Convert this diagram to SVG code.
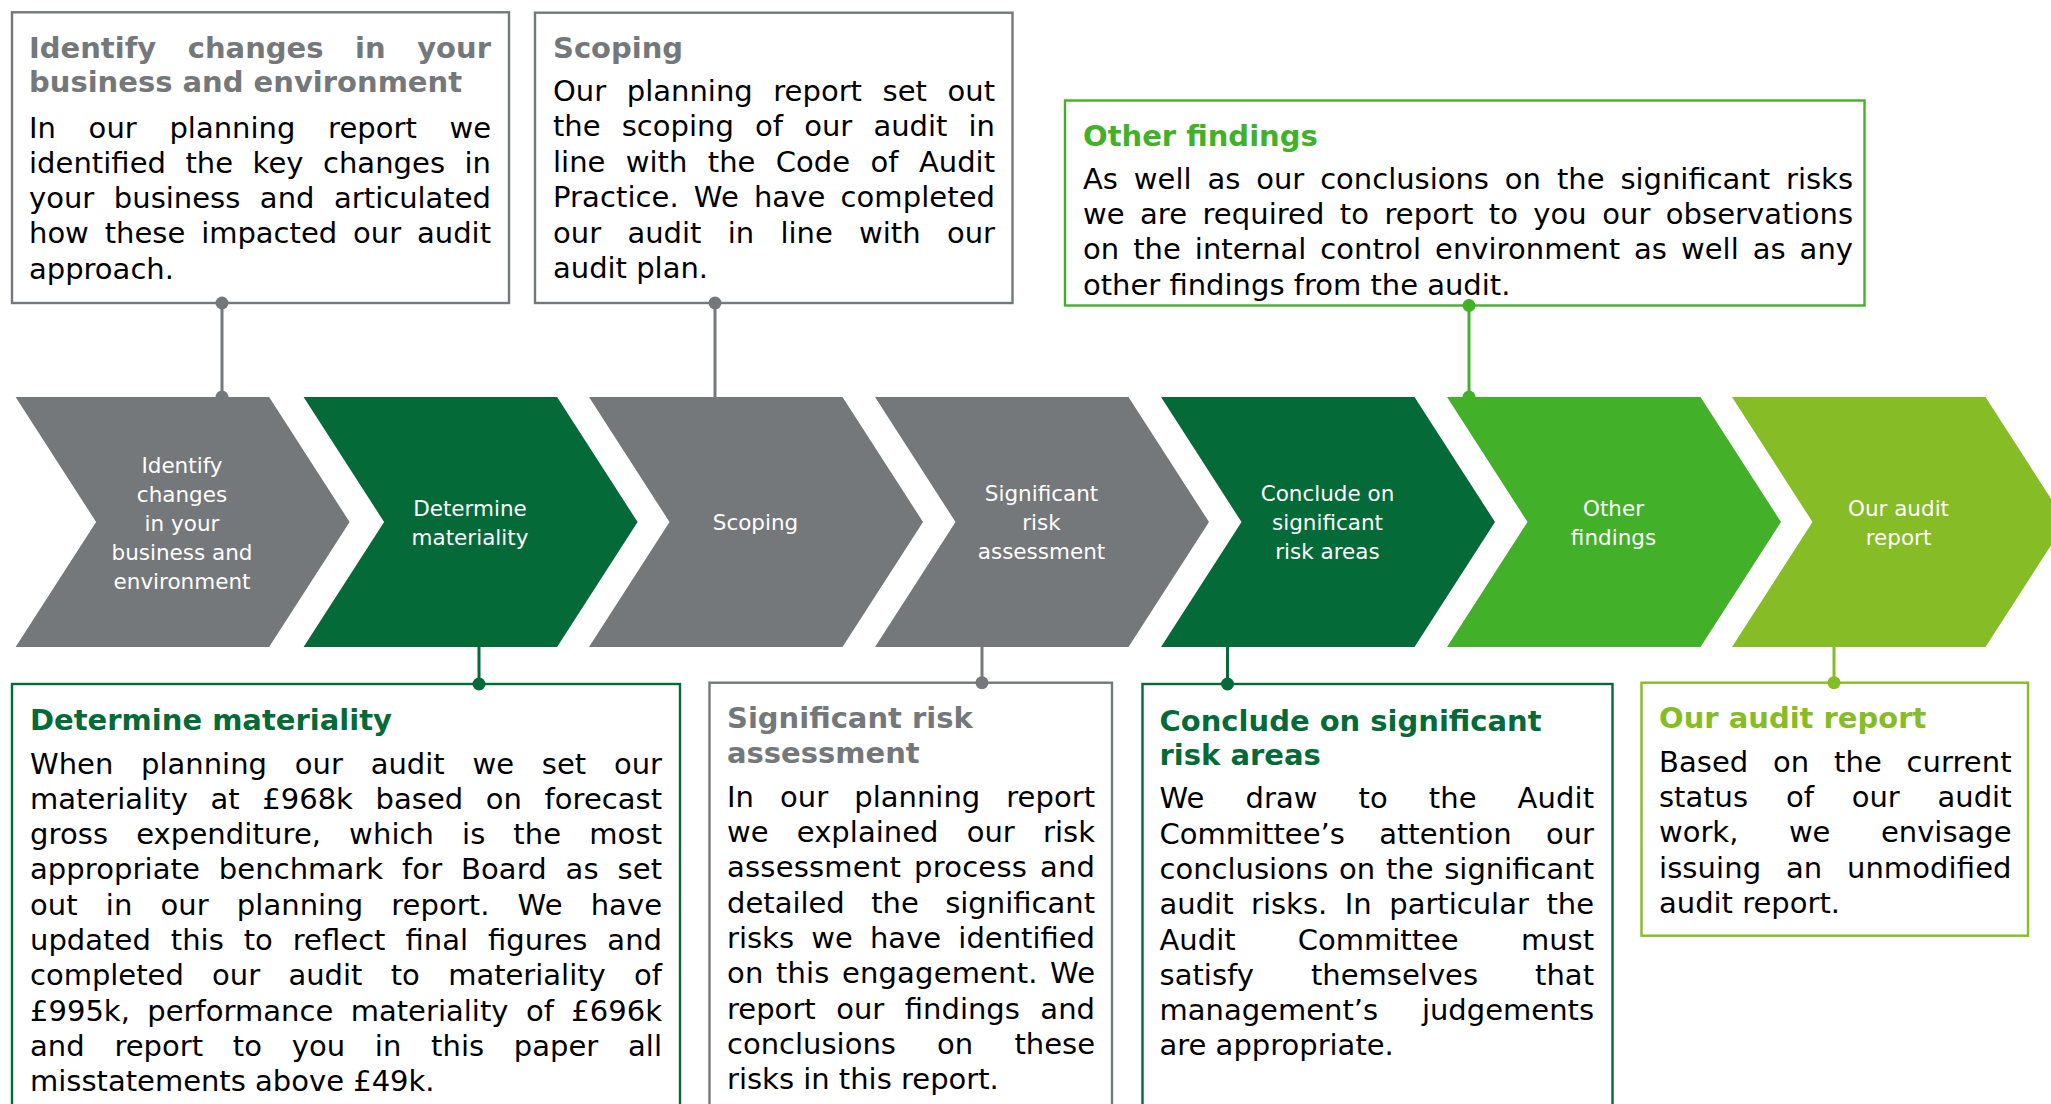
<svg xmlns="http://www.w3.org/2000/svg" width="2051" height="1104" viewBox="0 0 2051 1104">
<style>
.bg{fill:#ffffff}
.box{fill:#ffffff;stroke-width:2.4}
.grey{stroke:#75787B}
.dkg{stroke:#046A38}
.grn{stroke:#43B02A}
.lime{stroke:#86BC25}
.h{font-family:"DejaVu Sans",Verdana,sans-serif;font-size:29px;font-weight:bold}
.b{font-family:"DejaVu Sans",Verdana,sans-serif;font-size:29px;fill:#000000}
.cl{font-family:"DejaVu Sans",Verdana,sans-serif;font-size:21.5px;fill:#ffffff;text-anchor:middle}
.hg{fill:#75787B}.hd{fill:#046A38}.hn{fill:#43B02A}.hl{fill:#86BC25}
.con{stroke-width:3;fill:none}
</style>
<rect class="bg" x="0" y="0" width="2051" height="1104"/>

<g id="chevrons">
<g id="chev-identify">
<polygon points="15.6,397 269.1,397 349.6,522 269.1,647 15.6,647 96.1,522" fill="#75787B"/>
<text class="cl"><tspan x="182" y="473">Identify</tspan><tspan x="182" y="502">changes</tspan><tspan x="182" y="531">in your</tspan><tspan x="182" y="560">business and</tspan><tspan x="182" y="589">environment</tspan></text>
</g>
<g id="chev-materiality">
<polygon points="303.6,397 557.1,397 637.6,522 557.1,647 303.6,647 384.1,522" fill="#046A38"/>
<text class="cl"><tspan x="470" y="515.5">Determine</tspan><tspan x="470" y="545">materiality</tspan></text>
</g>
<g id="chev-scoping">
<polygon points="589,397 842.5,397 923,522 842.5,647 589,647 669.5,522" fill="#75787B"/>
<text class="cl" x="755.5" y="530">Scoping</text>
</g>
<g id="chev-risk">
<polygon points="875,397 1128.5,397 1209,522 1128.5,647 875,647 955.5,522" fill="#75787B"/>
<text class="cl"><tspan x="1041.5" y="501">Significant</tspan><tspan x="1041.5" y="530">risk</tspan><tspan x="1041.5" y="559">assessment</tspan></text>
</g>
<g id="chev-conclude">
<polygon points="1161,397 1414.5,397 1495,522 1414.5,647 1161,647 1241.5,522" fill="#046A38"/>
<text class="cl"><tspan x="1327.5" y="501">Conclude on</tspan><tspan x="1327.5" y="530">significant</tspan><tspan x="1327.5" y="559">risk areas</tspan></text>
</g>
<g id="chev-other">
<polygon points="1447,397 1700.5,397 1781,522 1700.5,647 1447,647 1527.5,522" fill="#43B02A"/>
<text class="cl"><tspan x="1613.5" y="515.5">Other</tspan><tspan x="1613.5" y="545">findings</tspan></text>
</g>
<g id="chev-report">
<polygon points="1732,397 1985.5,397 2066,522 1985.5,647 1732,647 1812.5,522" fill="#86BC25"/>
<text class="cl"><tspan x="1898.5" y="515.5">Our audit</tspan><tspan x="1898.5" y="545">report</tspan></text>
</g>
</g>

<g id="box-identify">
<rect class="box grey" x="12" y="12.3" width="497" height="290.7"/>
<text class="h hg" x="29" y="57.5" word-spacing="21.5" textLength="462" lengthAdjust="spacing">Identify changes in your</text>
<text class="h hg" x="29" y="92">business and environment</text>
<text class="b" x="29" y="137.5" word-spacing="23.4" textLength="462" lengthAdjust="spacing">In our planning report we</text>
<text class="b" x="29" y="172.8" word-spacing="10.2" textLength="462" lengthAdjust="spacing">identified the key changes in</text>
<text class="b" x="29" y="208.1" word-spacing="10.4" textLength="462" lengthAdjust="spacing">your business and articulated</text>
<text class="b" x="29" y="243.4" word-spacing="6.7" textLength="462" lengthAdjust="spacing">how these impacted our audit</text>
<text class="b" x="29" y="278.7">approach.</text>
</g>

<g id="box-scoping">
<rect class="box grey" x="535" y="12.7" width="477.5" height="290.3"/>
<text class="h hg" x="553" y="58.3">Scoping</text>
<text class="b" x="553" y="101" word-spacing="11.3" textLength="442" lengthAdjust="spacing">Our planning report set out</text>
<text class="b" x="553" y="136.45" word-spacing="12" textLength="442" lengthAdjust="spacing">the scoping of our audit in</text>
<text class="b" x="553" y="171.9" word-spacing="11.2" textLength="442" lengthAdjust="spacing">line with the Code of Audit</text>
<text class="b" x="553" y="207.35" word-spacing="5.75" textLength="442" lengthAdjust="spacing">Practice. We have completed</text>
<text class="b" x="553" y="242.8" word-spacing="17.1" textLength="442" lengthAdjust="spacing">our audit in line with our</text>
<text class="b" x="553" y="278.25">audit plan.</text>
</g>

<g id="box-other">
<rect class="box grn" x="1065" y="100.5" width="799.5" height="205"/>
<text class="h hn" x="1083" y="145.5">Other findings</text>
<text class="b" x="1083" y="188.8" word-spacing="6.7" textLength="770" lengthAdjust="spacing">As well as our conclusions on the significant risks</text>
<text class="b" x="1083" y="224.1" word-spacing="6.1" textLength="770" lengthAdjust="spacing">we are required to report to you our observations</text>
<text class="b" x="1083" y="259.4" word-spacing="4.7" textLength="770" lengthAdjust="spacing">on the internal control environment as well as any</text>
<text class="b" x="1083" y="294.7">other findings from the audit.</text>
</g>

<g id="box-materiality">
<rect class="box dkg" x="12" y="684" width="668" height="440"/>
<text class="h hd" x="30" y="730">Determine materiality</text>
<text class="b" x="30" y="773.5" word-spacing="18.6" textLength="632" lengthAdjust="spacing">When planning our audit we set our</text>
<text class="b" x="30" y="808.8" word-spacing="13.4" textLength="632" lengthAdjust="spacing">materiality at £968k based on forecast</text>
<text class="b" x="30" y="844.1" word-spacing="18.6" textLength="632" lengthAdjust="spacing">gross expenditure, which is the most</text>
<text class="b" x="30" y="879.4" word-spacing="9.6" textLength="632" lengthAdjust="spacing">appropriate benchmark for Board as set</text>
<text class="b" x="30" y="914.7" word-spacing="18.8" textLength="632" lengthAdjust="spacing">out in our planning report. We have</text>
<text class="b" x="30" y="950" word-spacing="10.65" textLength="632" lengthAdjust="spacing">updated this to reflect final figures and</text>
<text class="b" x="30" y="985.3" word-spacing="19.1" textLength="632" lengthAdjust="spacing">completed our audit to materiality of</text>
<text class="b" x="30" y="1020.6" word-spacing="8.2" textLength="632" lengthAdjust="spacing">£995k, performance materiality of £696k</text>
<text class="b" x="30" y="1055.9" word-spacing="20.5" textLength="632" lengthAdjust="spacing">and report to you in this paper all</text>
<text class="b" x="30" y="1091.2">misstatements above £49k.</text>
</g>

<g id="box-risk">
<rect class="box grey" x="709.5" y="682.7" width="402.5" height="440"/>
<text class="h hg" x="727" y="728.3">Significant risk</text>
<text class="h hg" x="727" y="763.3">assessment</text>
<text class="b" x="727" y="806.7" word-spacing="16.8" textLength="368" lengthAdjust="spacing">In our planning report</text>
<text class="b" x="727" y="842" word-spacing="19" textLength="368" lengthAdjust="spacing">we explained our risk</text>
<text class="b" x="727" y="877.3" word-spacing="3.5" textLength="368" lengthAdjust="spacing">assessment process and</text>
<text class="b" x="727" y="912.6" word-spacing="17.2" textLength="368" lengthAdjust="spacing">detailed the significant</text>
<text class="b" x="727" y="947.9" word-spacing="8" textLength="368" lengthAdjust="spacing">risks we have identified</text>
<text class="b" x="727" y="983.2" word-spacing="3" textLength="368" lengthAdjust="spacing">on this engagement. We</text>
<text class="b" x="727" y="1018.5" word-spacing="11.2" textLength="368" lengthAdjust="spacing">report our findings and</text>
<text class="b" x="727" y="1053.8" word-spacing="32" textLength="368" lengthAdjust="spacing">conclusions on these</text>
<text class="b" x="727" y="1089.1">risks in this report.</text>
</g>

<g id="box-conclude">
<rect class="box dkg" x="1142.5" y="684" width="470" height="440"/>
<text class="h hd" x="1159.5" y="730.7">Conclude on significant</text>
<text class="h hd" x="1159.5" y="765">risk areas</text>
<text class="b" x="1159.5" y="808.3" word-spacing="31.6" textLength="434.5" lengthAdjust="spacing">We draw to the Audit</text>
<text class="b" x="1159.5" y="843.6" word-spacing="25.2" textLength="434.5" lengthAdjust="spacing">Committee’s attention our</text>
<text class="b" x="1159.5" y="878.9" word-spacing="1.5" textLength="434.5" lengthAdjust="spacing">conclusions on the significant</text>
<text class="b" x="1159.5" y="914.2" word-spacing="8.3" textLength="434.5" lengthAdjust="spacing">audit risks. In particular the</text>
<text class="b" x="1159.5" y="949.5" word-spacing="53" textLength="434.5" lengthAdjust="spacing">Audit Committee must</text>
<text class="b" x="1159.5" y="984.8" word-spacing="47.7" textLength="434.5" lengthAdjust="spacing">satisfy themselves that</text>
<text class="b" x="1159.5" y="1020.1" word-spacing="34.6" textLength="434.5" lengthAdjust="spacing">management’s judgements</text>
<text class="b" x="1159.5" y="1055.4">are appropriate.</text>
</g>

<g id="box-report">
<rect class="box lime" x="1641.5" y="682.7" width="386.5" height="253"/>
<text class="h hl" x="1659" y="728.3">Our audit report</text>
<text class="b" x="1659" y="771.7" word-spacing="15.5" textLength="352.5" lengthAdjust="spacing">Based on the current</text>
<text class="b" x="1659" y="807" word-spacing="28.6" textLength="352.5" lengthAdjust="spacing">status of our audit</text>
<text class="b" x="1659" y="842.3" word-spacing="41.3" textLength="352.5" lengthAdjust="spacing">work, we envisage</text>
<text class="b" x="1659" y="877.6" word-spacing="15.3" textLength="352.5" lengthAdjust="spacing">issuing an unmodified</text>
<text class="b" x="1659" y="912.9">audit report.</text>
</g>

<g id="connectors">
<g stroke="#75787B" fill="#75787B">
<line class="con" x1="222" y1="303" x2="222" y2="397"/>
<circle cx="222" cy="303" r="6.5" stroke="none"/>
<circle cx="222" cy="397" r="6.5" stroke="none"/>
<line class="con" x1="715" y1="303" x2="715" y2="397"/>
<circle cx="715" cy="303" r="6.5" stroke="none"/>
<line class="con" x1="982" y1="647" x2="982" y2="682.7"/>
<circle cx="982" cy="682.7" r="6.5" stroke="none"/>
</g>
<g stroke="#43B02A" fill="#43B02A">
<line class="con" x1="1469" y1="305.5" x2="1469" y2="397"/>
<circle cx="1469" cy="305.5" r="6.5" stroke="none"/>
<circle cx="1469" cy="397" r="6.5" stroke="none"/>
</g>
<g stroke="#046A38" fill="#046A38">
<line class="con" x1="479" y1="647" x2="479" y2="684"/>
<circle cx="479" cy="684" r="6.5" stroke="none"/>
<line class="con" x1="1227.5" y1="647" x2="1227.5" y2="684"/>
<circle cx="1227.5" cy="684" r="6.5" stroke="none"/>
</g>
<g stroke="#86BC25" fill="#86BC25">
<line class="con" x1="1834" y1="647" x2="1834" y2="682.7"/>
<circle cx="1834" cy="682.7" r="6.5" stroke="none"/>
</g>
</g>
</svg>
